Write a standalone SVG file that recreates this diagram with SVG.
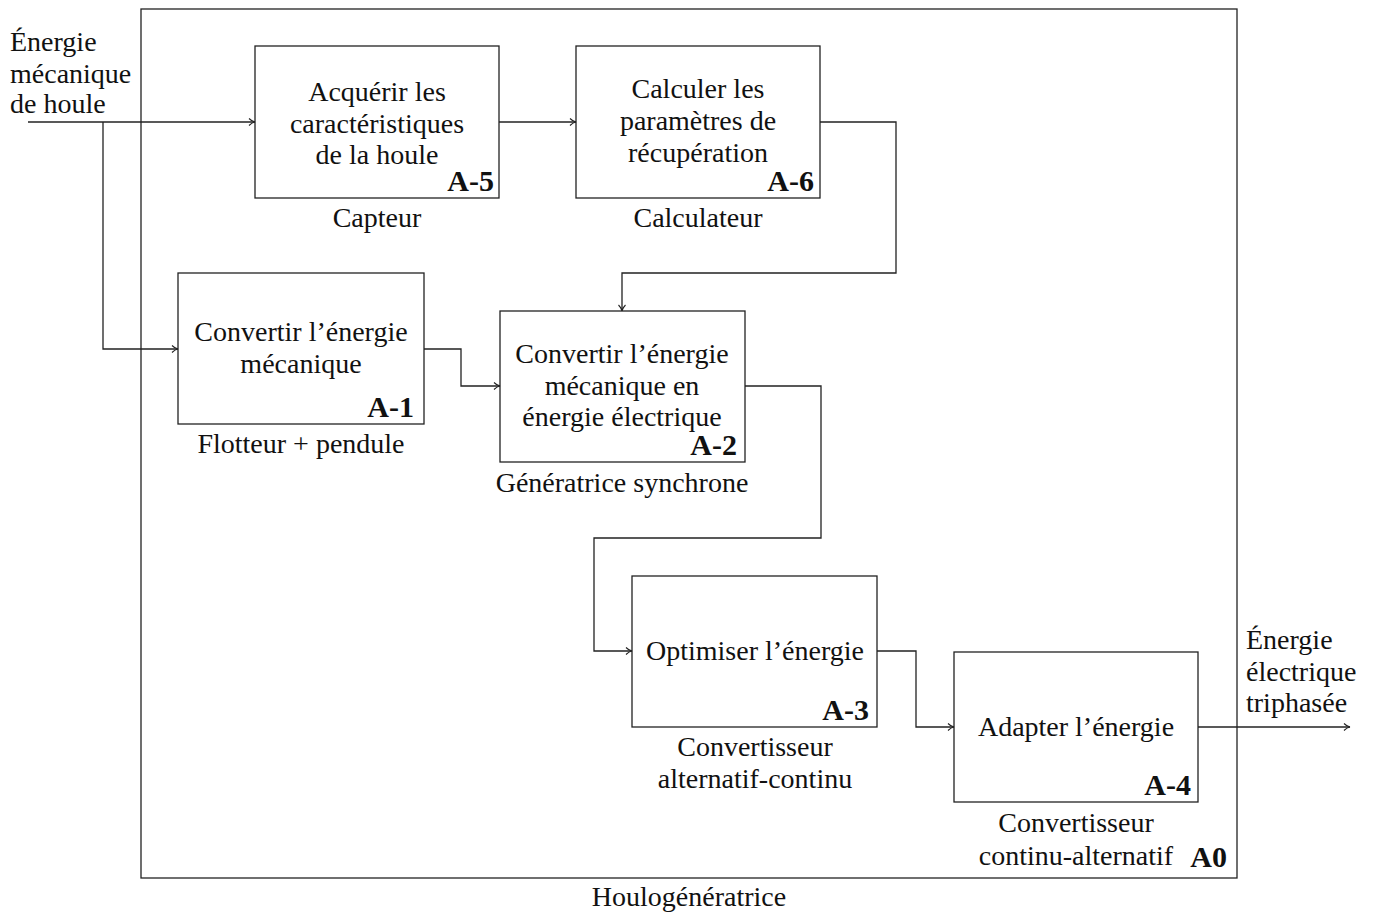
<svg xmlns="http://www.w3.org/2000/svg" width="1373" height="912" viewBox="0 0 1373 912">
<style>
text{font-family:"Liberation Serif","DejaVu Serif",serif;font-size:28px;fill:#111}
.c{text-anchor:middle}
.id{font-weight:bold;text-anchor:end;font-size:30px}
.box{fill:none;stroke:#222;stroke-width:1.3}
.wire{fill:none;stroke:#222;stroke-width:1.3}
</style>
<defs>
<marker id="ar" viewBox="0 0 10 10" refX="9" refY="5" markerWidth="10" markerHeight="10" markerUnits="userSpaceOnUse" orient="auto">
<path d="M3,1.5 Q6,4.5 9,5 Q6,5.5 3,8.5" fill="none" stroke="#222" stroke-width="1.1"/>
</marker>
</defs>
<rect x="0" y="0" width="1373" height="912" fill="#fff"/>
<g id="A0">
<rect class="box" x="141" y="9" width="1096" height="869"/>
<text class="id" x="1227" y="867">A0</text>
<text class="c" x="689" y="906">Houlogénératrice</text>
</g>
<g id="input">
<text x="10" y="51">Énergie</text>
<text x="10" y="83">mécanique</text>
<text x="10" y="113">de houle</text>
</g>
<g id="output">
<text x="1246" y="649">Énergie</text>
<text x="1246" y="681">électrique</text>
<text x="1246" y="712">triphasée</text>
</g>
<g id="A-5">
<rect class="box" x="255" y="46" width="244" height="152"/>
<text class="c" x="377" y="101">Acquérir les</text>
<text class="c" x="377" y="133">caractéristiques</text>
<text class="c" x="377" y="164">de la houle</text>
<text class="id" x="494" y="191">A-5</text>
<text class="c" x="377" y="227">Capteur</text>
</g>
<g id="A-6">
<rect class="box" x="576" y="46" width="244" height="152"/>
<text class="c" x="698" y="98">Calculer les</text>
<text class="c" x="698" y="130">paramètres de</text>
<text class="c" x="698" y="162">récupération</text>
<text class="id" x="814" y="191">A-6</text>
<text class="c" x="698" y="227">Calculateur</text>
</g>
<g id="A-1">
<rect class="box" x="178" y="273" width="246" height="151"/>
<text class="c" x="301" y="341">Convertir l’énergie</text>
<text class="c" x="301" y="373">mécanique</text>
<text class="id" x="414" y="417">A-1</text>
<text class="c" x="301" y="453">Flotteur + pendule</text>
</g>
<g id="A-2">
<rect class="box" x="500" y="311" width="245" height="151"/>
<text class="c" x="622" y="363">Convertir l’énergie</text>
<text class="c" x="622" y="395">mécanique en</text>
<text class="c" x="622" y="426">énergie électrique</text>
<text class="id" x="737" y="455">A-2</text>
<text class="c" x="622" y="492">Génératrice synchrone</text>
</g>
<g id="A-3">
<rect class="box" x="632" y="576" width="245" height="151"/>
<text class="c" x="755" y="660">Optimiser l’énergie</text>
<text class="id" x="869" y="720">A-3</text>
<text class="c" x="755" y="756">Convertisseur</text>
<text class="c" x="755" y="788">alternatif-continu</text>
</g>
<g id="A-4">
<rect class="box" x="954" y="652" width="244" height="150"/>
<text class="c" x="1076" y="736">Adapter l’énergie</text>
<text class="id" x="1191" y="795">A-4</text>
<text class="c" x="1076" y="832">Convertisseur</text>
<text class="c" x="1076" y="865">continu-alternatif</text>
</g>
<g id="connectors">
<path class="wire" d="M28,122 H255" marker-end="url(#ar)"/>
<path class="wire" d="M103,122 V349 H178" marker-end="url(#ar)"/>
<path class="wire" d="M499,122 H576" marker-end="url(#ar)"/>
<path class="wire" d="M820,122 H896 V273 H622 V311" marker-end="url(#ar)"/>
<path class="wire" d="M424,349 H461 V386 H500" marker-end="url(#ar)"/>
<path class="wire" d="M745,386 H821 V538 H594 V651 H632" marker-end="url(#ar)"/>
<path class="wire" d="M877,651 H916 V727 H954" marker-end="url(#ar)"/>
<path class="wire" d="M1198,727 H1350" marker-end="url(#ar)"/>
</g>
</svg>
